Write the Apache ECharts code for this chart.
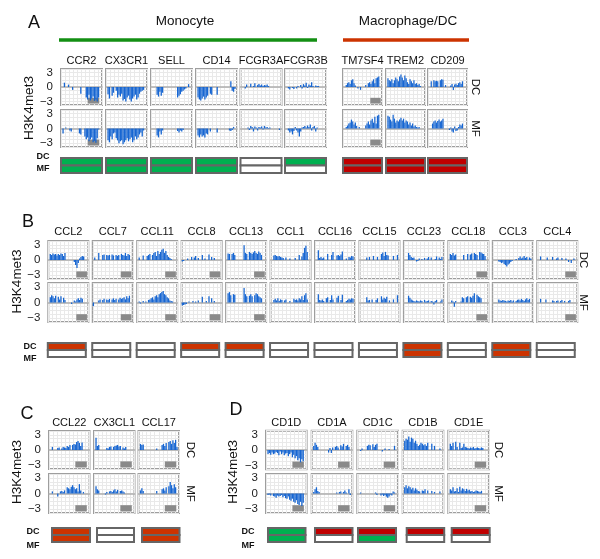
<!DOCTYPE html>
<html><head><meta charset="utf-8">
<script src="https://cdn.jsdelivr.net/npm/echarts@6/dist/echarts.min.js"></script>
<style>html,body{margin:0;padding:0;background:#fff}#c{width:600px;height:559px}</style>
</head><body><div id="c"></div><script>
// ---------------- DATA ----------------
const bins = Array.from({length: 30}, (_, i) => String(i));
const yTicks = [-3, 0, 3];
const yTickLabels = ['\u22123', '0', '3'];
const statusCodes = ['W', 'G', 'R', 'O'];

// Panel A
const genesA = ['CCR2','CX3CR1','SELL','CD14','FCGR3A','FCGR3B','TM7SF4','TREM2','CD209'];
const strandA = ['R','L','L','L','L','L','R','L','L'];
const dcStatusA = ['G','G','G','G','W','G','R','R','R'];
const mfStatusA = ['G','G','G','G','W','W','R','R','R'];
const CCR2_DC = [0,0,0.9,0,0,0.5,0,0,-0.6,0,0,0,0,0,-1.4,0,0,0,-2.2,-2.6,-1.6,-2.8,-2.4,-2.0,-2.9,-2.6,-3.0,-2.2,0,0];
const CCR2_MF = [0,-1.0,0,0.2,0,0,-0.4,-0.6,0,0,0,0,0,-1.0,-1.2,0,0,-1.6,-2.2,-1.8,-2.6,-2.2,-1.8,-2.8,-2.5,-2.9,-2.0,-0.2,0,0];
const CX3CR1_DC = [0,-1.5,-2.4,0,-1.8,-1.2,0,-0.8,-2.2,-1.6,-2.0,-1.4,-2.8,-2.5,-3.0,-2.2,-1.8,-2.6,-3.0,-2.4,-2.0,-1.6,-2.6,-2.2,-1.4,-1.0,-0.8,-0.6,0,0];
const CX3CR1_MF = [0,-2.4,-2.8,-1.6,-2.2,-1.0,-0.8,-2.0,-2.4,-3.0,-2.6,-2.4,-3.2,-2.8,-2.4,-2.0,-2.6,-2.2,-1.8,-2.8,-2.4,-1.6,-2.2,-1.8,-1.2,-0.8,-1.6,-0.4,0,0];
const SELL_DC = [0,0,0,0,-1.6,-2.0,-1.0,-1.8,-1.2,0,0,0,0,0,0,0,0,0,0,-2.2,-1.8,-1.5,-1.0,-0.8,-0.5,-0.3,0,0.6,0,0];
const SELL_MF = [0,0,0,0,-1.4,-1.8,-0.6,-1.2,-0.4,0,0,0,0,0,0,0,0,0,0,-0.5,-0.8,-0.4,-0.6,-0.3,0,0,0,0,0,0];
const CD14_DC = [0,-2.2,-2.6,-2.8,-2.4,-2.0,-2.6,-2.2,-1.8,0,-1.4,-1.6,0,0,0,-1.6,0,0,0,0,0,0,0,0,0,1.2,-0.8,-1.0,-0.4,0];
const CD14_MF = [0,-1.4,-1.8,-1.2,-1.6,-1.4,-1.8,-1.0,-1.2,0,-0.6,0,0,0,0,-0.8,0,0,0,0,0,0,0,0,-0.4,-0.5,-0.3,0.3,0,0];
const FCGR3A_DC = [0,0,0,-0.3,0.5,0,0,0.7,0,0.2,0.8,0,0.4,0.6,0.3,0.5,0.2,0.4,0.3,0.5,0.2,0,0,0,0,0,0,0,0,0];
const FCGR3A_MF = [0,0,0,0,0,0.2,-0.3,0.5,0.3,-0.6,0.4,0.2,-0.4,0.3,0.2,0.4,-0.2,0.5,0.2,0.3,0.1,0.2,0,0,0,0,0,0,-0.3,0];
const FCGR3B_DC = [0,0,-0.3,-0.5,0,-0.2,-0.4,0,-0.3,0.2,0,0.4,-0.3,0.6,0.3,0.9,-0.2,0.5,0.3,1.0,0.2,0,0.3,0.2,0.2,0,0,0,0,0];
const FCGR3B_MF = [0,0,-0.4,-0.8,-0.6,-1.2,-0.5,0.3,-0.4,-0.8,-1.6,-0.6,0.2,0.3,0.5,0.2,0.6,0.3,0.8,-0.4,0.3,0.5,-0.6,0.2,0,0,0,0,0,0];
const TM7SF4_DC = [0,0,0.4,0.8,1.0,0.6,1.4,1.6,0.8,0.3,0,-0.3,0,-0.6,0,0,0,0.4,0,0.8,1.0,0.6,1.2,1.6,0.8,1.8,2.0,2.2,0,0];
const TM7SF4_MF = [0,0,0.3,0.6,1.0,1.2,1.8,1.4,0.8,1.2,0.5,0,0.3,0,0,0,0,0.6,1.0,1.4,0.8,1.6,2.0,1.2,2.4,1.0,2.6,2.8,0,0];
const TREM2_DC = [0,1.8,1.4,1.2,1.6,0.8,1.4,2.0,1.6,1.2,2.2,2.6,2.0,1.4,2.4,1.8,1.0,0.6,1.6,1.2,0.8,1.4,0.6,0.8,0.4,0.6,0.2,0,0,0];
const TREM2_MF = [0,2.6,2.4,1.8,1.4,2.8,2.0,1.2,1.6,1.4,1.8,2.2,1.6,2.0,1.2,1.6,1.4,0.8,1.2,0.6,1.0,0.4,0.6,0.3,0.2,0.3,0,0,0,0];
const CD209_DC = [0,0,1.2,0,1.4,1.2,1.3,1.2,0,1.4,1.6,1.5,0,0.4,0,0,0,0.3,0.6,-0.6,0.5,0.7,0.4,0.8,1.0,0.6,1.2,0,0,0];
const CD209_MF = [0,0,0,1.0,1.4,1.6,1.2,1.5,1.8,1.4,1.6,2.0,0,0,0,0,-0.3,0.2,-0.6,-0.8,0.4,-0.5,-0.4,0.3,0.8,0.6,1.0,0,0,0];

// Panel B
const genesB = ['CCL2','CCL7','CCL11','CCL8','CCL13','CCL1','CCL16','CCL15','CCL23','CCL18','CCL3','CCL4'];
const strandB = ['R','R','R','R','R','L','L','L','L','R','L','R'];
const dcStatusB = ['O','W','W','O','O','W','W','W','O','W','O','W'];
const mfStatusB = ['W','W','W','W','W','W','W','W','O','W','O','W'];
const CCL2_DC = [0,1.2,1.0,1.3,1.1,1.2,0.9,1.2,1.0,1.3,1.2,0.8,1.4,0,0,0,0,0,0,-0.4,-1.0,-1.6,-0.6,0.3,0.6,0.8,0.7,0,0,0];
const CCL2_MF = [0,1.0,1.4,1.2,0.8,1.3,0,1.1,0.6,1.2,0,0.9,0.5,0,0,0,0,-0.3,0,0.4,0.2,0.6,0.8,0.5,0.9,0.7,0,0,0,0];
const CCL7_DC = [0,0.5,0,0,1.4,0,0,1.0,1.1,0,1.0,0.9,1.0,0,1.1,0.9,0,1.0,0.8,1.0,0,1.2,1.0,0.9,1.4,0.8,1.2,1.0,0,0];
const CCL7_MF = [-0.7,0,0,0,0.4,0.6,0,0.5,0.7,0,0.6,0.5,0.7,0,0.6,0.8,0.5,0.7,0,0.6,0.9,0.7,0.8,1.0,0.6,1.2,0.8,1.3,0,0];
const CCL11_DC = [0,0.5,0,0,0.9,0,0,0.8,1.0,1.2,0,1.0,1.4,1.6,0.8,1.8,1.2,1.6,2.0,2.2,1.4,1.8,1.0,0.6,0.4,0.2,0,0,0,0];
const CCL11_MF = [0,0.2,-0.2,0,0.3,0,0.2,0,0.5,0.6,0.8,1.0,0.6,1.2,1.4,1.0,1.6,1.8,2.0,2.2,1.6,1.4,1.0,0.8,0.4,0.3,0.2,0,0,0];
const CCL8_DC = [-0.3,-0.2,0,0,0.3,0,0,0.6,0,0.5,0.8,0,0.4,0,0,1.0,0,0.3,0,0,1.1,0,0.6,0,0.4,0,0,0,0,0];
const CCL8_MF = [-0.6,-0.5,-0.4,-0.3,0,0.2,0,0,0.3,0,0.2,0,0.4,0,0,1.1,0,0,0.3,0,1.2,0,0.8,0,0.3,0,0,0,0,0];
const CCL13_DC = [0,1.3,1.2,0,1.2,1.4,1.0,0,0,0,0,0,0,2.9,1.4,1.2,0,1.6,1.4,1.2,1.5,1.8,1.4,1.2,1.7,1.4,1.0,0,0,0];
const CCL13_MF = [0,1.8,2.0,1.4,0,1.6,1.5,0,0,0,0,0,0,2.8,1.6,1.2,0,1.3,1.6,1.2,0,1.4,1.8,1.6,1.2,1.0,0.8,0,0,0];
const CCL1_DC = [0,0,0.9,1.0,0.8,0.7,0.8,0.6,0.5,0.4,0,0.5,0,0,0.3,0,0,0,0.4,0,0,1.0,0,0.7,1.4,2.4,2.8,1.6,0,0];
const CCL1_MF = [0,0,0.5,0.7,0.4,0.8,0.3,0.6,0.5,0,0.4,0.6,0,0,0.3,0,0,0.7,0.5,0.6,0.4,0.8,0.6,1.2,0.5,1.4,1.8,0.6,0,0];
const CCL16_DC = [0,0,1.9,0.4,0.6,0.3,0.5,0,0,1.2,0,0,1.0,1.6,0,0,0.9,1.0,0.8,1.1,1.7,0,0,0.3,0,0.6,0.5,0.8,0.7,0];
const CCL16_MF = [0,0,1.6,0.5,0.4,0.6,0.3,0,0.8,1.0,0,0.5,1.4,0.6,0,0,0.9,1.3,0,0.5,1.5,0,0,0.3,0.5,0.7,0.6,0.8,0.7,0];
const CCL15_DC = [0,0,0,0,0,0.5,0,0.6,0,0,0.8,0,0,0.6,0,0,1.2,1.5,0.8,1.6,1.0,0.9,0,0,0,0.8,0,0,1.0,0];
const CCL15_MF = [0,0,0,0,0,1.0,0.4,0.5,0,0.6,0,0,0.5,0.8,0,0,1.2,0.6,0.9,0.7,1.1,0,0.4,0,0,0.6,0,0,1.4,0];
const CCL23_DC = [0,0,0,1.4,1.0,0.6,0.4,0.5,0,-0.3,-0.2,0.3,0,0.2,0,0.4,0,0.3,0.6,0,0.5,0,0,0.2,0.7,0,0.5,0.2,0.6,0];
const CCL23_MF = [0,0,0,1.3,0.9,0.6,0.4,0.3,0.2,0.4,0.3,0.2,0.4,0.3,0,0.5,0.2,0.3,0.4,0,0.3,0.2,-0.4,0.3,0.5,0,0,0.2,0.6,0];
const CCL18_DC = [0,1.2,1.0,1.4,0.9,1.1,0,0,0,0,0,1.0,0,0,1.2,0,1.1,1.3,0,1.4,1.2,1.0,0,1.6,1.5,1.3,1.2,0.8,0,0];
const CCL18_MF = [0,0,0.4,0.2,-0.8,0.3,0,0,0,0.2,1.0,0.8,0,1.0,1.2,0,1.1,0.9,1.3,1.8,0,1.5,1.2,1.0,0.8,0,0,0,0,0];
const CCL3_DC = [0,0,0,0,-0.3,-0.4,-0.6,-0.5,-0.8,-1.0,-1.3,-0.9,-0.7,-0.4,-0.2,0,0,0.2,0,0.4,0.7,0.3,0.5,0.8,0.4,0.6,0,0.5,0.3,0];
const CCL3_MF = [0,0,0,0,0.6,0.4,0.3,0.5,0.4,0.3,0.2,0.4,0.3,0.5,0.2,0.4,0,0.3,0.5,0.6,0.4,0.7,0.5,0.3,0.6,0.8,0.5,0.7,0,0];
const CCL4_DC = [0,0,0.7,0,0,0,0,0.5,0,0,0,0.6,0,0,0.3,0.5,0,0,0.4,0,0,0.3,0,-0.4,0,-0.6,0,0.3,0,0];
const CCL4_MF = [0,0,0.7,0,0,0,0.6,0,0,0,0,0.4,0.3,0,0.3,0.4,0,0.3,0.5,0,0.3,0,0,0.3,0.5,0,0,0,0,0];

// Panel C
const genesC = ['CCL22','CX3CL1','CCL17'];
const strandC = ['R','R','R'];
const dcStatusC = ['O','W','O'];
const mfStatusC = ['O','W','O'];
const CCL22_DC = [0,0,0.6,0,0,0,0.4,0.5,0,0.3,0.6,0.5,0.4,0.8,0.6,1.0,0,1.0,1.2,1.1,1.6,1.8,1.4,0.8,1.5,0,0,0,0,0];
const CCL22_MF = [0,0,0.4,0,0,0,-0.6,0,0.4,0.5,0.3,0.6,0,1.2,1.0,0.8,1.3,1.6,1.2,0.8,1.0,0.4,1.8,0.6,0,0.3,0,0,0,0];
const CX3CL1_DC = [0,2.4,0.8,1.0,0,0,0,0,0,0.4,0.3,0.6,0.7,0,0.6,0.8,0.9,1.0,0.7,0.8,0,0.5,0.3,0.6,0,0,0,0,0,0];
const CX3CL1_MF = [0,1.4,0.8,0.6,0,0,0,0,-0.2,0.3,0,0.4,0.5,0.3,0.6,0.8,0.4,0.7,0,0.5,0.6,0.4,0.2,0,0,0,0,0,0,0];
const CCL17_DC = [0,1.2,1.0,1.1,0,0,0,0,0,0,0,0,0,0.3,0,0,0,1.0,1.2,0.8,1.4,0,1.6,1.8,1.2,1.9,1.4,2.0,0.6,0];
const CCL17_MF = [0,0.6,1.0,0.5,0,0,0,0,0,0,0,0,0,0.5,0,0,0,0.8,1.0,0.6,1.2,0,1.4,2.2,1.6,1.0,1.8,1.2,0,0];

// Panel D
const genesD = ['CD1D','CD1A','CD1C','CD1B','CD1E'];
const strandD = ['R','R','R','L','R'];
const dcStatusD = ['G','R','R','R','R'];
const mfStatusD = ['G','W','G','W','W'];
const CD1D_DC = [0,-0.8,-0.6,-0.9,-0.5,-0.8,-0.7,-0.4,-0.6,-1.0,-0.3,-0.8,-0.5,-1.0,-0.7,-0.6,-1.2,-0.8,-0.5,-1.4,-0.9,-1.6,-1.2,-2.0,-1.6,-2.4,-1.8,-2.2,0,0];
const CD1D_MF = [0,-0.3,-0.2,-0.4,0,-0.5,-0.6,-0.8,-0.4,-0.6,-0.5,-0.3,-0.7,-0.5,-0.9,-1.0,-0.6,-1.2,-1.4,-1.0,-1.6,-1.8,-1.3,-2.0,-2.2,-1.6,-2.4,-1.8,0,0];
const CD1A_DC = [0,0.8,1.4,1.0,0.6,0,0,0,0,0,0,0,-0.5,0.4,-0.6,0.5,0,0.6,0.8,0.5,0,0.9,0.7,1.2,0,0.8,1.0,0.6,0,0];
const CD1A_MF = [0,0.3,0.8,1.2,0.5,0.3,0,0,0,0,0,0,0,0,0,0,0,0,0.2,0,0.3,0.4,0,0.3,0.6,0.2,0,0.8,-0.3,0];
const CD1C_DC = [0,0,-0.2,0.3,0,0,0,0.8,1.0,0.9,0,1.1,0.6,1.0,1.2,0,0,0,-0.3,0,0.3,0,0,0.2,0,0,0,0.8,0,0];
const CD1C_MF = [0,0,0.2,0,0,0,0,0,0,0,0,0,0,0.2,-0.3,0,0,-0.4,-0.2,-0.5,-0.3,-0.6,-0.8,-0.6,-0.2,-0.4,0.4,0.2,0,0];
const CD1B_DC = [0,1.8,2.2,2.0,2.6,1.6,2.4,2.2,1.4,1.8,1.2,0.8,1.0,1.4,1.2,0.9,1.1,0.8,1.4,0,0,1.2,0,0.8,0,0,0,0.3,0,0];
const CD1B_MF = [0,1.2,1.6,1.0,1.4,1.2,0.8,1.1,0.6,1.0,0.7,0.5,0.4,0,0.6,0.5,0.8,0,0.6,0,0,0.5,0,0.3,0,0,0,0.4,0,0];
const CD1E_DC = [0,1.2,0.8,1.4,0,1.6,0.6,0,1.4,0.4,0.5,1.2,0.6,0.5,0.4,0.3,0.5,0.4,0.6,0.3,0.4,0.5,0.4,0.3,0.5,0.4,0,0,0,0];
const CD1E_MF = [0,0.8,0.6,1.2,0.4,0.5,1.0,0.3,1.3,0.6,1.0,0.8,0.5,0.9,0.6,0.7,0.4,0.5,0.3,0.4,0.6,0.5,0.4,0.3,0.5,0,0,0,0,0];

// ---------------- BUILD ----------------
const FONT = "'Liberation Sans', Arial, sans-serif";
const statusColors = {W:'#ffffff', G:'#00b050', R:'#c00000', O:'#cc3300'};
const grids = [], xAxes = [], yAxes = [], series = [], graphics = [];

function addMini(x, y, w, h, values, strand, showLabels) {
  const i = grids.length;
  grids.push({left:x, top:y, width:w, height:h, show:true, backgroundColor:'#ffffff', borderColor:'#9e9e9e', borderWidth:2});
  xAxes.push({gridIndex:i, type:'category', data:bins, boundaryGap:true,
    axisLine:{show:true, onZero:true, lineStyle:{color:'#adadad', width:1.5}},
    axisTick:{show:false}, axisLabel:{show:false},
    splitLine:{show:true, interval:2, lineStyle:{color:'#e9e9e9', width:1}}});
  yAxes.push({gridIndex:i, type:'value', min:-3.75, max:3.75, interval:0.75,
    axisLine:{show:false}, axisTick:{show:false},
    axisLabel:{show:showLabels, margin:8, fontSize:11.5, color:'#222', fontFamily:FONT,
      formatter: v => { const k = yTicks.findIndex(t => Math.abs(t - v) < 1e-6); return k >= 0 ? yTickLabels[k] : ''; }},
    splitLine:{show:true, lineStyle:{color:'#e9e9e9', width:1}}});
  const from = strand === 'R' ? 22.5 : 0.5, to = strand === 'R' ? 28.5 : 6.5;
  series.push({type:'bar', xAxisIndex:i, yAxisIndex:i, data:values, barWidth:'95%',
    itemStyle:{color:'#1766d2'}, silent:true, animation:false,
    markArea:{silent:true, itemStyle:{color:'#8a8a8a'},
      data:[[{xAxis:from, yAxis:-3.45},{xAxis:to, yAxis:-2.25}]]}});
}

function addIndicator(x, y, w, h, dcKey, mfKey) {
  const i = grids.length;
  grids.push({left:x, top:y, width:w, height:h, show:false});
  xAxes.push({gridIndex:i, type:'category', data:['s'], show:false});
  yAxes.push({gridIndex:i, type:'category', data:['MF','DC'], show:false});
  series.push({type:'custom', xAxisIndex:i, yAxisIndex:i, silent:true, animation:false,
    data:[[0, 1, statusCodes.indexOf(dcKey)], [0, 0, statusCodes.indexOf(mfKey)]],
    renderItem:(params, api) => {
      const c = api.coord([api.value(0), api.value(1)]);
      const s = api.size([1, 1]);
      return {type:'rect', shape:{x:c[0]-s[0]/2, y:c[1]-s[1]/2, width:s[0], height:s[1]},
        style:{fill: statusColors[statusCodes[api.value(2)]], stroke:'#666666', lineWidth:2}};
    }});
}

function txt(text, x, y, size, opt) {
  opt = opt || {};
  graphics.push({type:'text', x:x, y:y, rotation:opt.rot || 0, silent:true, z:100,
    style:{text:text, font:(opt.bold ? 'bold ' : '') + size + 'px ' + FONT, fill:opt.color || '#111',
      textAlign:'center', textVerticalAlign:'middle', align:'center', verticalAlign:'middle'}});
}
function hline(x1, x2, y, color, w) {
  graphics.push({type:'line', silent:true, shape:{x1:x1, y1:y, x2:x2, y2:y}, style:{stroke:color, lineWidth:w}});
}

function buildPanel(genes, dcArr, mfArr, strand, dcS, mfS, L) {
  genes.forEach((g, k) => {
    const x = L.boxX[k], w = L.boxW[k];
    txt(g, x + w / 2, L.labelY, 11);
    addMini(x, L.rowTop[0], w, L.rowH[0], dcArr[k], strand[k], k === 0);
    addMini(x, L.rowTop[1], w, L.rowH[1], mfArr[k], strand[k], k === 0);
    addIndicator(L.indX[k], L.indY, L.indW[k], L.indH, dcS[k], mfS[k]);
  });
  txt(L.letter, L.letterX, L.letterY, 18);
  txt('H3K4met3', L.axisNameX, (L.rowTop[0] + L.rowTop[1] + L.rowH[1]) / 2, 13.5, {rot: Math.PI / 2});
  txt('DC', L.sideX, L.rowTop[0] + L.rowH[0] / 2, 11.5, {rot: -Math.PI / 2});
  txt('MF', L.sideX, L.rowTop[1] + L.rowH[1] / 2, 11.5, {rot: -Math.PI / 2});
  txt('DC', L.indLabelX, L.indLabelY[0], 9, {bold: true});
  txt('MF', L.indLabelX, L.indLabelY[1], 9, {bold: true});
}

// layouts
const bxA = [61,106,151,196,240.5,285,343,386,428];
const bwA = [41,41,41,41,41,41,39,39,39];
buildPanel(genesA,
  [CCR2_DC,CX3CR1_DC,SELL_DC,CD14_DC,FCGR3A_DC,FCGR3B_DC,TM7SF4_DC,TREM2_DC,CD209_DC],
  [CCR2_MF,CX3CR1_MF,SELL_MF,CD14_MF,FCGR3A_MF,FCGR3B_MF,TM7SF4_MF,TREM2_MF,CD209_MF],
  strandA, dcStatusA, mfStatusA,
  {boxX:bxA, boxW:bwA, rowTop:[69,110], rowH:[36,37], labelY:61,
   indX:bxA, indW:bwA, indY:158, indH:15,
   letter:'A', letterX:34, letterY:23, axisNameX:29, sideX:475, indLabelX:43, indLabelY:[157,169]});

const bxB = genesB.map((g, k) => 48.3 + k * 44.45);
buildPanel(genesB,
  [CCL2_DC,CCL7_DC,CCL11_DC,CCL8_DC,CCL13_DC,CCL1_DC,CCL16_DC,CCL15_DC,CCL23_DC,CCL18_DC,CCL3_DC,CCL4_DC],
  [CCL2_MF,CCL7_MF,CCL11_MF,CCL8_MF,CCL13_MF,CCL1_MF,CCL16_MF,CCL15_MF,CCL23_MF,CCL18_MF,CCL3_MF,CCL4_MF],
  strandB, dcStatusB, mfStatusB,
  {boxX:bxB, boxW:genesB.map(() => 40), rowTop:[241,283], rowH:[38,39], labelY:232,
   indX:bxB.map(v => v - 0.5), indW:genesB.map(() => 38), indY:343, indH:14,
   letter:'B', letterX:28, letterY:222, axisNameX:17, sideX:583, indLabelX:30, indLabelY:[347,359]});

buildPanel(genesC, [CCL22_DC,CX3CL1_DC,CCL17_DC], [CCL22_MF,CX3CL1_MF,CCL17_MF],
  strandC, dcStatusC, mfStatusC,
  {boxX:[49,94,138.5], boxW:[40.5,40.5,40.5], rowTop:[431,474], rowH:[38,39], labelY:423,
   indX:[52,97,142], indW:[38,37,37.5], indY:528, indH:14,
   letter:'C', letterX:27, letterY:414, axisNameX:17, sideX:190, indLabelX:33, indLabelY:[532,546]});

buildPanel(genesD, [CD1D_DC,CD1A_DC,CD1C_DC,CD1B_DC,CD1E_DC], [CD1D_MF,CD1A_MF,CD1C_MF,CD1B_MF,CD1E_MF],
  strandD, dcStatusD, mfStatusD,
  {boxX:[266,311.7,357.3,402.7,448.3], boxW:[40.6,40.6,40.6,40.6,40.6], rowTop:[430.7,474], rowH:[38.6,39], labelY:423,
   indX:[268,315,358,406.7,451.7], indW:[37.5,37.5,38,37.5,38], indY:528, indH:14,
   letter:'D', letterX:236, letterY:410, axisNameX:233, sideX:498, indLabelX:248, indLabelY:[532,546]});

// group headers of panel A
txt('Monocyte', 185, 21, 13.5);
txt('Macrophage/DC', 408, 21, 13.5);
hline(59, 317, 40, '#138f13', 3.5);
hline(343, 469, 40, '#cc3300', 3.5);

const chart = echarts.init(document.getElementById('c'), null, {renderer:'canvas'});
chart.setOption({
  animation:false,
  backgroundColor:'#ffffff',
  grid:grids, xAxis:xAxes, yAxis:yAxes, series:series,
  graphic:{elements:graphics}
});
</script></body></html>
